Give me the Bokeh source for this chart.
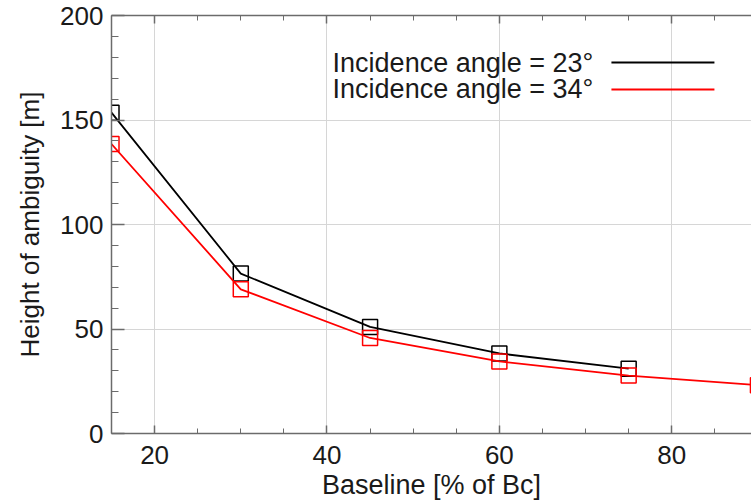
from bokeh.plotting import figure
from bokeh.models import (ColumnDataSource, Range1d, FixedTicker, LinearAxis,
                          Label, Arrow, CustomJSTickFormatter)
from bokeh.embed import file_html
from bokeh.resources import INLINE

# ---- data ----
baseline_23 = [15, 30, 45, 60, 75]
hoa_23 = [153.5, 76.5, 51.0, 38.3, 31.0]
baseline_34 = [15, 30, 45, 60, 75, 90]
hoa_34 = [138.5, 69.0, 45.7, 34.5, 27.7, 23.1]
series_labels = ["Incidence angle = 23°", "Incidence angle = 34°"]
series_colors = ["#000000", "#ff0000"]
x_major = [20, 40, 60, 80]
x_minor = [15, 25, 30, 35, 45, 50, 55, 65, 70, 75, 85, 90]
y_major = [0, 50, 100, 150, 200]
y_minor = [10, 20, 30, 40, 60, 70, 80, 90, 110, 120, 130, 140, 160, 170, 180, 190]

FONT = "Liberation Sans"
AXIS_COLOR = "#6b6b6b"

p = figure(width=751, height=502, output_backend="svg", toolbar_location=None,
           x_range=Range1d(15, 89.25), y_range=Range1d(0, 200),
           min_border_left=111, min_border_right=0, min_border_top=15,
           min_border_bottom=69, x_axis_label="Baseline [% of Bc]",
           y_axis_label="Height of ambiguity [m]")
p.outline_line_color = None
p.background_fill_color = "white"
p.border_fill_color = "white"

xt = FixedTicker(ticks=x_major, minor_ticks=x_minor)
yt = FixedTicker(ticks=y_major, minor_ticks=y_minor)

for ax in p.xaxis:
    ax.ticker = xt
for ax in p.yaxis:
    ax.ticker = yt

def style_axis(ax, tick_in, minor_in):
    ax.axis_line_color = AXIS_COLOR
    ax.axis_line_width = 1.5
    ax.major_tick_line_color = AXIS_COLOR
    ax.minor_tick_line_color = AXIS_COLOR
    ax.major_tick_line_width = 1.5
    ax.minor_tick_line_width = 1
    ax.major_tick_in = tick_in
    ax.major_tick_out = 0
    ax.minor_tick_in = minor_in
    ax.minor_tick_out = 0
    ax.major_label_text_font = FONT
    ax.major_label_text_font_size = "26px"
    ax.major_label_text_color = "#1a1a1a"
    ax.axis_label_text_font = FONT
    ax.axis_label_text_font_style = "normal"
    ax.axis_label_text_color = "#1a1a1a"

style_axis(p.xaxis[0], 8, 5)
style_axis(p.yaxis[0], 13, 7)
p.xaxis[0].axis_label_text_font_size = "27px"
p.yaxis[0].axis_label_text_font_size = "26px"
p.xaxis[0].major_label_standoff = 12
p.xaxis[0].axis_label_standoff = 3
p.yaxis[0].major_label_standoff = 8
p.yaxis[0].axis_label_standoff = 12

top = LinearAxis(ticker=xt, formatter=CustomJSTickFormatter(code="return ''"))
style_axis(top, 8, 5)
top.major_label_standoff = 0
p.add_layout(top, "above")

p.xgrid.ticker = xt
p.ygrid.ticker = yt
for g in (p.xgrid[0], p.ygrid[0]):
    g.grid_line_color = "#d6d6d6"
    g.grid_line_width = 1

src23 = ColumnDataSource(dict(x=baseline_23, y=hoa_23))
src34 = ColumnDataSource(dict(x=baseline_34, y=hoa_34))

for src, col in ((src23, series_colors[0]), (src34, series_colors[1])):
    p.line("x", "y", source=src, line_color=col, line_width=1.8)
    p.scatter("x", "y", source=src, marker="square", size=15,
              fill_color=None, line_color=col, line_width=1.5)

# legend (label left of line)
leg_y = [177.5, 164.6]
for lab, col, yy in zip(series_labels, series_colors, leg_y):
    p.add_layout(Label(x=70.9, y=yy, text=lab, text_align="right",
                       text_baseline="middle", text_font=FONT,
                       text_font_size="27px", text_color="#1a1a1a"))
    p.add_layout(Arrow(x_start=73.0, y_start=yy, x_end=84.95, y_end=yy,
                       end=None, line_color=col, line_width=2))

open("out.html", "w").write(file_html(p, INLINE))
